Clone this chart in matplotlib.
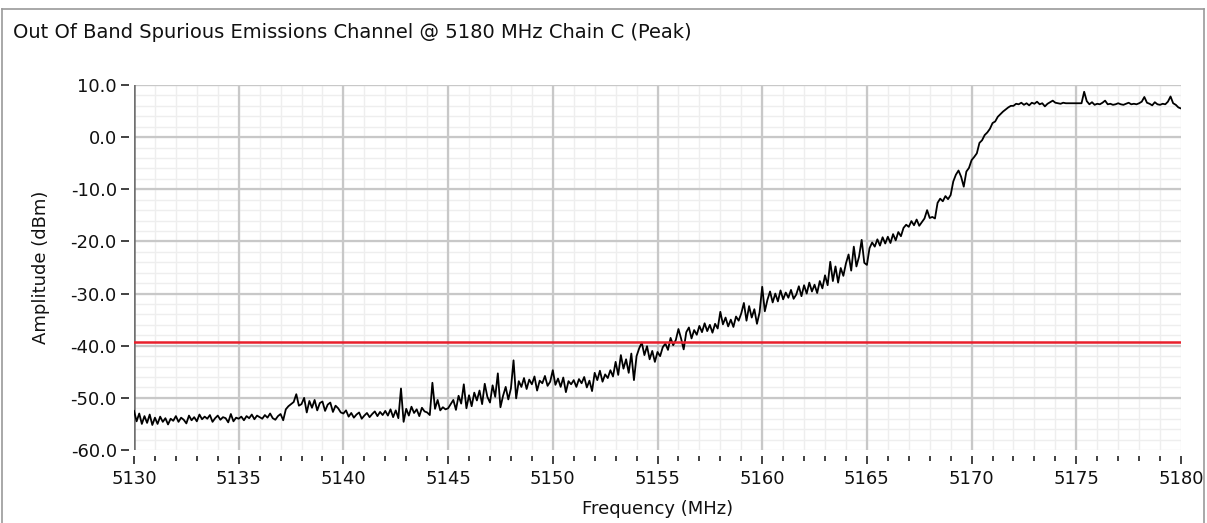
import numpy as np
import matplotlib
matplotlib.use("Agg")
import matplotlib.pyplot as plt
from matplotlib.lines import Line2D
from matplotlib.ticker import MultipleLocator, FormatStrFormatter

plt.rcParams['font.family'] = ['DejaVu Sans']

# Sweep: 5130 - 5180 MHz, 0.125 MHz step
f_start, f_stop = 5130.0, 5180.0
amplitude_dbm = [
    # 5130
    -52.5, -54.5, -53.0, -55.0, -53.5, -54.8, -53.2, -55.2,
    # 5131
    -53.8, -55.0, -53.6, -54.6, -53.9, -55.1, -54.0, -54.4,
    # 5132
    -53.5, -54.6, -53.8, -54.2, -54.9, -53.4, -54.3, -53.7,
    # 5133
    -54.5, -53.2, -54.1, -53.6, -54.0, -53.3, -54.6, -53.9,
    # 5134
    -53.4, -54.2, -53.7, -53.9, -54.7, -53.1, -54.5, -53.8,
    # 5135
    -54.0, -53.6, -54.3, -53.5, -53.9, -53.2, -54.1, -53.4,
    # 5136
    -53.7, -54.0, -53.3, -53.8, -53.0, -53.9, -54.2, -53.5,
    # 5137
    -53.1, -54.3, -52.2, -51.6, -51.2, -50.8, -49.3, -51.5,
    # 5138
    -51.2, -50.0, -52.8, -50.6, -51.9, -50.4, -52.4, -51.0,
    # 5139
    -50.7, -52.5, -51.3, -50.9, -52.7, -51.5, -52.0, -52.8,
    # 5140
    -53.0, -52.4, -53.6, -52.9, -53.8, -53.2, -52.8, -54.0,
    # 5141
    -53.4, -52.9, -53.7, -53.1, -52.6, -53.5, -52.7, -53.3,
    # 5142
    -52.5, -53.4, -52.2, -53.7, -52.4, -53.9, -48.2, -54.6,
    # 5143
    -52.1, -53.4, -51.7, -52.9, -52.2, -53.5, -51.9, -52.6,
    # 5144
    -52.8, -53.3, -47.1, -52.1, -50.4, -52.4, -51.8, -52.2,
    # 5145
    -52.0, -51.2, -50.4, -52.3, -49.6, -51.1, -47.4, -52.0,
    # 5146
    -49.5, -51.6, -49.0, -50.5, -48.6, -51.2, -47.3, -49.8,
    # 5147
    -50.9, -47.6, -49.8, -45.3, -51.8, -49.6, -47.9, -50.3,
    # 5148
    -48.2, -42.8, -50.1, -46.8, -47.9, -46.2, -48.3, -46.5,
    # 5149
    -47.4, -45.9, -48.6, -46.7, -47.2, -45.8, -47.7, -46.9,
    # 5150
    -44.7, -47.5, -46.3, -47.9, -46.1, -48.9, -46.8, -47.4,
    # 5151
    -46.6, -47.9, -46.4, -47.2, -46.0, -48.0, -46.7, -48.7,
    # 5152
    -45.2, -46.6, -44.8, -46.9, -45.5, -46.2, -44.7, -45.9,
    # 5153
    -43.1, -45.6, -41.8, -44.4, -42.6, -45.2, -41.5, -46.6,
    # 5154
    -42.0, -40.5, -39.4, -41.8, -40.1, -42.6, -41.0, -43.1,
    # 5155
    -41.2, -42.0, -40.3, -39.6, -40.8, -38.5, -39.9, -38.9,
    # 5156
    -36.8, -38.6, -40.7, -37.4, -36.5, -38.6, -37.0, -37.9,
    # 5157
    -36.2, -37.4, -35.7, -37.2, -36.0, -37.5, -35.8, -36.7,
    # 5158
    -33.5, -35.9, -34.6, -36.3, -35.0, -36.4, -34.4, -35.2,
    # 5159
    -33.8, -31.8, -35.2, -32.4, -34.6, -33.0, -35.8, -33.6,
    # 5160
    -28.7, -33.4, -31.2, -29.6, -31.7, -30.0, -31.5, -29.4,
    # 5161
    -31.1, -29.8, -30.8, -29.3, -31.0, -30.2, -28.6, -30.5,
    # 5162
    -28.4, -30.0, -27.9, -29.6, -28.3, -29.9, -27.6, -29.0,
    # 5163
    -26.5, -28.4, -23.9, -27.6, -24.8, -27.9, -25.1, -26.6,
    # 5164
    -24.2, -22.5, -25.6, -21.0, -24.8, -22.9, -19.7, -24.1,
    # 5165
    -24.5, -21.3, -20.2, -21.0, -19.6, -20.8, -19.2, -20.4,
    # 5166
    -19.1, -20.3, -18.6, -19.8, -18.2, -19.0, -17.4, -16.8,
    # 5167
    -17.2, -16.1, -16.9, -15.8, -17.0, -16.3, -15.6, -14.0,
    # 5168
    -15.5, -15.3, -15.6, -12.6, -11.8, -12.3, -11.3, -11.9,
    # 5169
    -11.1, -8.5, -7.2, -6.4, -7.6, -9.5, -6.6, -5.9,
    # 5170
    -4.4, -3.8, -3.1, -1.1, -0.6, 0.4, 0.9, 1.6,
    # 5171
    2.7, 3.0, 3.9, 4.4, 4.9, 5.3, 5.7, 6.0,
    # 5172
    6.0, 6.4, 6.3, 6.6, 6.2, 6.5, 6.1, 6.6,
    # 5173
    6.4, 6.8, 6.3, 6.5, 5.9, 6.4, 6.7, 7.0,
    # 5174
    6.6, 6.5, 6.4, 6.6, 6.5, 6.5, 6.5, 6.5,
    # 5175
    6.5, 6.5, 6.5, 8.7, 6.9, 6.3, 6.7, 6.2,
    # 5176
    6.4, 6.3, 6.6, 7.0, 6.3, 6.4, 6.2, 6.3,
    # 5177
    6.5, 6.3, 6.2, 6.4, 6.6, 6.3, 6.4, 6.3,
    # 5178
    6.5, 6.8, 7.7, 6.6, 6.4, 6.1, 6.7, 6.3,
    # 5179
    6.2, 6.4, 6.3, 6.8, 7.8, 6.5, 6.2, 5.7,
    # 5180
    5.5,
]
limit_dbm = -39.2

x_major_ticks = [5130, 5135, 5140, 5145, 5150, 5155, 5160, 5165, 5170, 5175, 5180]
y_major_ticks = [-60, -50, -40, -30, -20, -10, 0, 10]

title_text = "Out Of Band Spurious Emissions Channel @ 5180 MHz Chain C (Peak)"
x_label = "Frequency (MHz)"
y_label = "Amplitude (dBm)"

freq_mhz = np.linspace(f_start, f_stop, len(amplitude_dbm))

W, H, DPI = 1207, 523, 100
fig = plt.figure(figsize=(W / DPI, H / DPI), dpi=DPI)
fig.patch.set_facecolor("white")

# plot area in pixels
px_left, px_right, px_top, px_bottom = 134, 1181, 85, 450
ax = fig.add_axes([px_left / W, 1 - px_bottom / H,
                   (px_right - px_left) / W, (px_bottom - px_top) / H])

# grid
for xv in np.arange(5130, 5181, 1):
    ax.axvline(xv, color="#eeeeee", lw=1.0, zorder=0)
for yv in np.arange(-60, 10.1, 2):
    ax.axhline(yv, color="#eeeeee", lw=1.0, zorder=0)
for xv in x_major_ticks[1:-1]:
    ax.axvline(xv, color="#c8c8c8", lw=1.6, zorder=1)
for yv in y_major_ticks[1:]:
    ax.axhline(yv, color="#c8c8c8", lw=1.6, zorder=1)
ax.axvline(f_start, color="#707070", lw=1.8, zorder=3)

# data trace and limit
ax.plot(freq_mhz, amplitude_dbm, color="black", lw=1.3, zorder=4)
ax.axhline(limit_dbm, color="#e8202c", lw=1.8, zorder=5)

ax.set_xlim(f_start, f_stop)
ax.set_ylim(-60, 10)
ax.set_facecolor("white")
for s in ax.spines.values():
    s.set_visible(False)

# detached scales
ax.spines['left'].set_position(('outward', 5 * 72 / DPI))
ax.spines['bottom'].set_position(('outward', 6 * 72 / DPI))
ax.set_xticks(x_major_ticks)
ax.set_yticks(y_major_ticks)
ax.xaxis.set_minor_locator(MultipleLocator(1))
ax.yaxis.set_major_formatter(FormatStrFormatter("%.1f"))
ax.xaxis.set_major_formatter(FormatStrFormatter("%d"))
ax.tick_params(axis='y', which='major', direction='out', length=8 * 72 / DPI,
               width=1.3, color="#333333", pad=3, labelsize=13, labelcolor="#111111")
ax.tick_params(axis='x', which='major', direction='out', length=8 * 72 / DPI,
               width=1.3, color="#333333", pad=4, labelsize=13, labelcolor="#111111")
ax.tick_params(axis='x', which='minor', direction='out', length=5 * 72 / DPI,
               width=1.3, color="#333333")

ax.set_xlabel(x_label, fontsize=13, color="#111111", labelpad=9)
ax.set_ylabel(y_label, fontsize=13, color="#111111", labelpad=15)

fig.text(13 / W, 1 - 32 / H, title_text, fontsize=14, ha="left", va="center",
         color="#111111")

# outer frame
frame_kw = dict(color="#999999", lw=1.2, transform=fig.transFigure)
fig.add_artist(Line2D([2 / W, 2 / W], [0, 1 - 9 / H], **frame_kw))
fig.add_artist(Line2D([2 / W, 1204 / W], [1 - 9 / H, 1 - 9 / H], **frame_kw))
fig.add_artist(Line2D([1204 / W, 1204 / W], [0, 1 - 9 / H], **frame_kw))

fig.savefig("out.png", dpi=DPI, facecolor="white")
